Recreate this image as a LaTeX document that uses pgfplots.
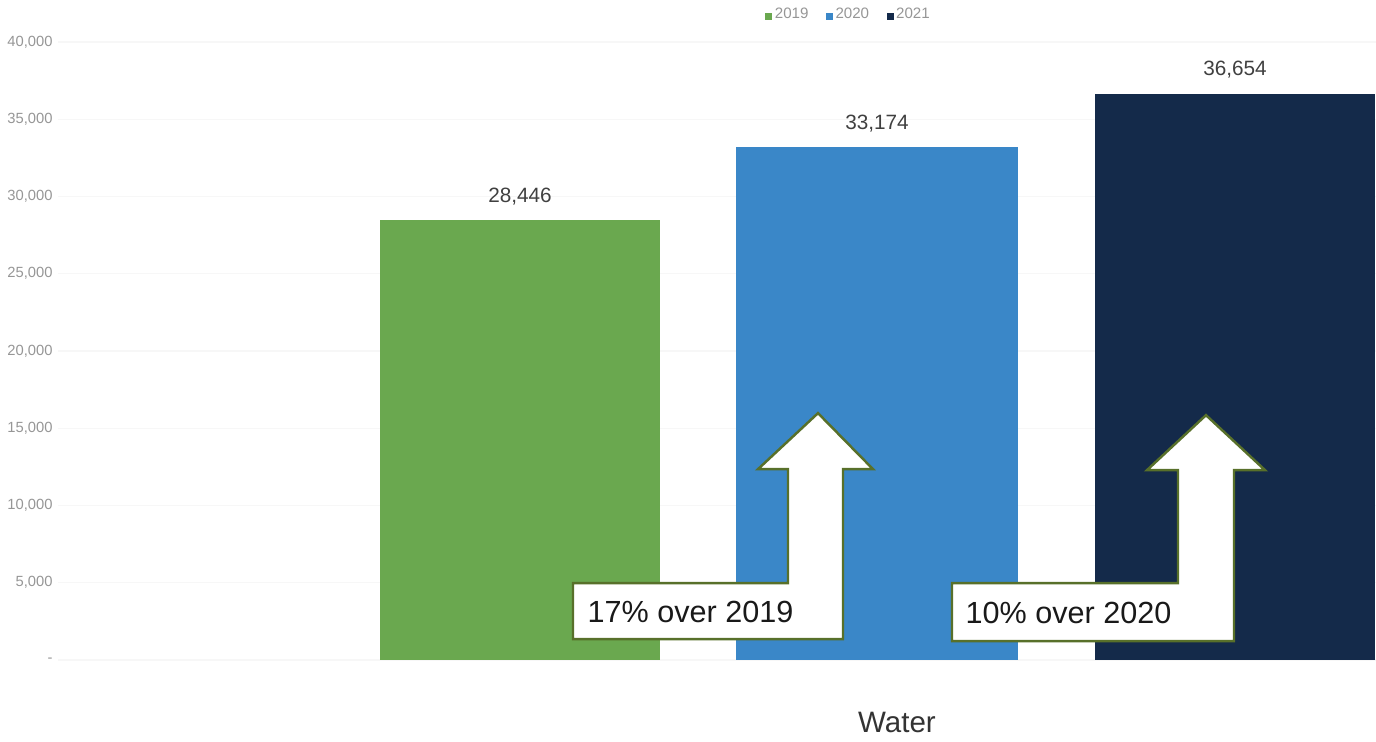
\documentclass[border=0pt]{standalone}
\usepackage{pgfplots}
\pgfplotsset{compat=1.18}
\usepackage{fontspec}
\setmainfont{Liberation Sans}
\definecolor{cgreen}{RGB}{106,168,79}
\definecolor{cblue}{RGB}{58,135,200}
\definecolor{cnavy}{RGB}{20,42,74}
\definecolor{olive}{RGB}{88,112,42}
\definecolor{tickgray}{RGB}{150,150,150}
\definecolor{lblgray}{RGB}{64,64,64}
\begin{document}
\begin{tikzpicture}
\begin{axis}[name=ax, scale only axis, width=131.8mm, height=74.2mm,
  xmin=58, xmax=1376, ymin=-5304, ymax=42716,
  axis line style={draw=none}, tick style={draw=none},
  xtick=\empty,
  ytick={0,5000,10000,15000,20000,25000,30000,35000,40000},
  yticklabels={-,{5,000},{10,000},{15,000},{20,000},{25,000},{30,000},{35,000},{40,000}},
  yticklabel style={font=\fontsize{4.2}{5}\selectfont, text=tickgray, xshift=0.7mm},
  ymajorgrids, grid style={black!3, line width=0.4pt},
  clip=false,
  legend columns=3,
  legend style={draw=none, fill=none, at={(0.6,0.978)}, anchor=center,
    font=\fontsize{4.3}{5}\selectfont, text=tickgray,
    nodes={inner sep=0.25mm},
    /tikz/every even column/.append style={column sep=1.5mm}},
  legend image code/.code={\fill[#1] (0mm,-0.35mm) rectangle (0.7mm,0.35mm);},
  every node near coord/.append style={font=\fontsize{5.9}{7}\selectfont, text=lblgray, yshift=0.3mm},
  nodes near coords={\pgfmathprintnumber[fixed, precision=0, 1000 sep={,}, assume math mode=true]{\pgfplotspointmeta}},
]
\addplot[ybar, bar width=280, bar shift=0pt, fill=cgreen, draw=none] coordinates {(520,28446)};
\addlegendentry{2019}
\addplot[ybar, bar width=282, bar shift=0pt, fill=cblue, draw=none] coordinates {(877,33174)};
\addlegendentry{2020}
\addplot[ybar, bar width=280, bar shift=0pt, fill=cnavy, draw=none] coordinates {(1235,36654)};
\addlegendentry{2021}

\draw[olive, line width=0.7pt, fill=white]
  (axis cs:573,4981) -- (axis cs:788,4981) -- (axis cs:788,12354) -- (axis cs:758,12354)
  -- (axis cs:818,15977) -- (axis cs:873,12354) -- (axis cs:843,12354) -- (axis cs:843,1358)
  -- (axis cs:573,1358) -- cycle;
\node[anchor=west, inner sep=0pt, font=\fontsize{8.7}{10}\selectfont, text=black!90] at (axis cs:587,3105) {17\% over 2019};

\draw[olive, line width=0.7pt, fill=white]
  (axis cs:952,4981) -- (axis cs:1178,4981) -- (axis cs:1178,12290) -- (axis cs:1147,12290)
  -- (axis cs:1206,15847) -- (axis cs:1265,12290) -- (axis cs:1234,12290) -- (axis cs:1234,1229)
  -- (axis cs:952,1229) -- cycle;
\node[anchor=west, inner sep=0pt, font=\fontsize{8.7}{10}\selectfont, text=black!90] at (axis cs:965,3040) {10\% over 2020};

\node[font=\fontsize{8.4}{10}\selectfont, text=black!80] at (axis cs:897,-4010) {Water};
\end{axis}
\pgfresetboundingbox
\path ([xshift=-5.8mm]ax.south west) rectangle (ax.north east);
\end{tikzpicture}
\end{document}
